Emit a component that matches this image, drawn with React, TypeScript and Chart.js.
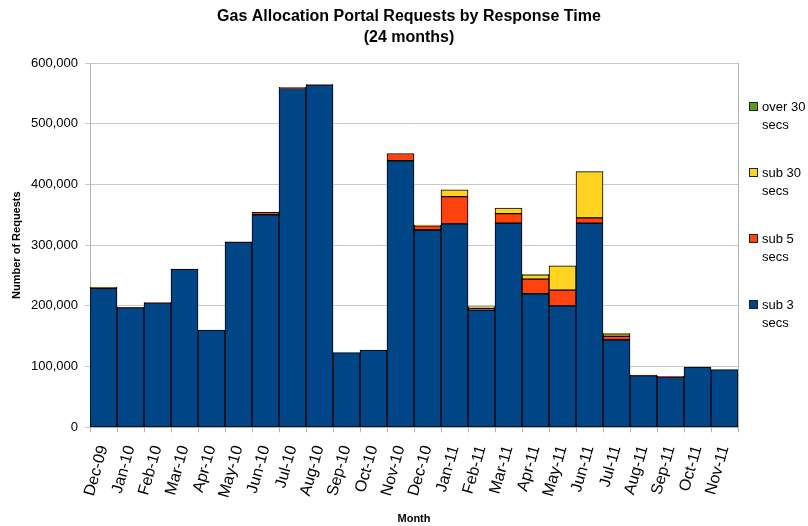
import React, { useEffect, useRef } from "react";
import { Chart, registerables } from "chart.js";

Chart.register(...registerables);

const months = [
  "Dec-09", "Jan-10", "Feb-10", "Mar-10", "Apr-10", "May-10", "Jun-10", "Jul-10",
  "Aug-10", "Sep-10", "Oct-10", "Nov-10", "Dec-10", "Jan-11", "Feb-11", "Mar-11",
  "Apr-11", "May-11", "Jun-11", "Jul-11", "Aug-11", "Sep-11", "Oct-11", "Nov-11",
];

const sub3 = [
  229000, 197000, 205000, 260000, 160000, 305000, 350000, 558000,
  564000, 123000, 127000, 439000, 325000, 335000, 193000, 336000,
  220000, 200000, 336000, 144000, 85000, 83000, 99000, 95000,
];
const sub5 = [
  1000, 500, 500, 500, null, 500, 4000, 2000,
  500, null, null, 12000, 7000, 45000, 3000, 16000,
  24000, 26000, 9000, 6000, 500, 1000, null, null,
];
const sub30 = [
  500, null, null, null, null, null, null, null,
  null, null, null, null, 1000, 11000, 2000, 9000,
  7000, 40000, 76000, 4000, null, null, null, null,
];
const over30 = [
  500, null, null, null, null, null, null, null,
  null, null, null, null, null, null, 1000, null,
  500, null, null, 500, 500, null, null, null,
];

const seriesNames = ["sub 3 secs", "sub 5 secs", "sub 30 secs", "over 30 secs"];
const seriesColors = ["#004586", "#ff420e", "#ffd320", "#579d1c"];
const titleLines = ["Gas Allocation Portal Requests by Response Time", "(24 months)"];
const yAxisTitle = "Number of Requests";
const xAxisTitle = "Month";

const FONT = '"Liberation Sans", Arial, sans-serif';

const decorPlugin = {
  id: "decor",
  afterDraw(chart: any) {
    const { ctx, chartArea: a } = chart;
    ctx.save();
    ctx.strokeStyle = "#b3b3b3";
    ctx.lineWidth = 1;
    ctx.beginPath();
    ctx.moveTo(Math.round(a.right) + 0.5, a.top);
    ctx.lineTo(Math.round(a.right) + 0.5, a.bottom);
    ctx.stroke();

    ctx.fillStyle = "#000";
    ctx.textAlign = "center";
    ctx.textBaseline = "middle";
    ctx.font = `bold 16px ${FONT}`;
    ctx.fillText(titleLines[0], 409, 17);
    ctx.fillText(titleLines[1], 409, 38);

    ctx.font = `13px ${FONT}`;
    ctx.textAlign = "left";
    const ds = chart.data.datasets;
    for (let i = 0; i < ds.length; i++) {
      const d = ds[ds.length - 1 - i];
      const y = 107 + i * 66;
      ctx.fillStyle = d.backgroundColor;
      ctx.fillRect(749.5, y - 4.5, 8, 8);
      ctx.strokeStyle = "#222";
      ctx.strokeRect(749.5, y - 4.5, 8, 8);
      ctx.fillStyle = "#000";
      const words = String(d.label).split(" ");
      const last = words.pop();
      ctx.fillText(words.join(" "), 762, y);
      ctx.fillText(last, 762, y + 18);
    }
    ctx.restore();
  },
};

export default function App() {
  const ref = useRef<HTMLCanvasElement | null>(null);

  useEffect(() => {
    if (!ref.current) return;
    const data = [sub3, sub5, sub30, over30];
    const chart = new Chart(ref.current, {
      type: "bar",
      data: {
        labels: months,
        datasets: data.map((vals, i) => ({
          label: seriesNames[i],
          data: vals,
          backgroundColor: seriesColors[i],
          borderColor: "#000",
          borderWidth: 1,
          borderSkipped: false,
          barPercentage: 1,
          categoryPercentage: 1,
        })),
      },
      options: {
        animation: false,
        responsive: false,
        maintainAspectRatio: false,
        layout: { padding: { top: 63, left: 0, right: 70, bottom: 0 } },
        plugins: {
          legend: { display: false },
          title: { display: false },
          tooltip: { enabled: false },
        },
        scales: {
          x: {
            stacked: true,
            afterFit: (s: any) => {
              s.height = 98.7;
            },
            grid: {
              display: true,
              drawOnChartArea: false,
              drawTicks: true,
              tickLength: 5,
              color: "#b3b3b3",
              offset: true,
            },
            border: { color: "#b3b3b3" },
            ticks: {
              minRotation: 74,
              maxRotation: 74,
              autoSkip: false,
              padding: 11,
              color: "#000",
              font: { family: FONT, size: 16 },
            },
            title: {
              display: true,
              text: xAxisTitle,
              color: "#000",
              padding: { top: 0, bottom: 0 },
              font: { family: FONT, size: 11, weight: "bold" },
            },
          },
          y: {
            stacked: true,
            min: 0,
            max: 600000,
            afterFit: (s: any) => {
              s.width = 90;
            },
            grid: {
              color: "#c8c8c8",
              tickLength: 5,
              drawTicks: true,
            },
            border: { color: "#b3b3b3" },
            ticks: {
              stepSize: 100000,
              padding: 7,
              color: "#000",
              font: { family: FONT, size: 13 },
              callback: (v: any) => Number(v).toLocaleString("en-US"),
            },
            title: {
              display: true,
              text: yAxisTitle,
              color: "#000",
              padding: { top: 10, bottom: 0 },
              font: { family: FONT, size: 11, weight: "bold" },
            },
          },
        },
      },
      plugins: [decorPlugin],
    });
    return () => chart.destroy();
  }, []);

  return (
    <div style={{ position: "absolute", left: 0, top: 0, width: 808, height: 526, background: "#fff" }}>
      <canvas ref={ref} width={808} height={526} style={{ width: 808, height: 526, display: "block" }} />
    </div>
  );
}
